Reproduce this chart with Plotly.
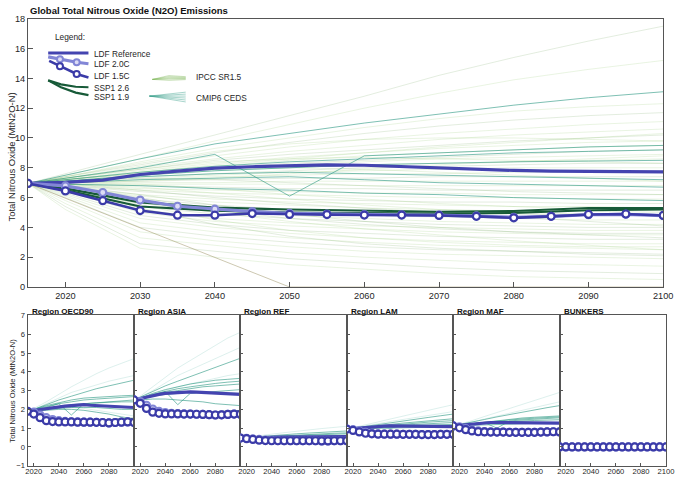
import plotly.graph_objects as go

W, H = 685, 482

# ---------------- data ----------------
years5 = list(range(2015, 2101, 5))
years10 = [2015, 2020, 2030, 2040, 2050, 2060, 2070, 2080, 2090, 2100]

main_xticks = [2020, 2030, 2040, 2050, 2060, 2070, 2080, 2090, 2100]
main_yticks = [0, 2, 4, 6, 8, 10, 12, 14, 16, 18]
panel_xticks = [2020, 2040, 2060, 2080, 2100]
panel_yticks = [-1, 0, 1, 2, 3, 4, 5, 6, 7]

# Global totals (MtN2O-N)
ldf_ref_global = [6.95, 7.02, 7.17, 7.55, 7.78, 7.98, 8.07, 8.12, 8.2, 8.17, 8.08, 7.98, 7.9, 7.82, 7.77, 7.75, 7.73, 7.72]
ldf_20_global = [6.95, 6.78, 6.34, 5.83, 5.42, 5.22, 5.06, 4.95, 4.9, 4.86, 4.85, 4.82, 4.77, 4.68, 4.74, 4.85, 4.88, 4.79]
ldf_15_global = [6.95, 6.45, 5.79, 5.13, 4.82, 4.82, 4.93, 4.87, 4.86, 4.83, 4.83, 4.8, 4.74, 4.64, 4.74, 4.87, 4.9, 4.8]
ssp126_global = [6.95, 6.62, 5.68, 5.32, 5.2, 5.12, 5.05, 5.1, 5.3, 5.3]
ssp119_global = [6.95, 6.5, 5.4, 5.12, 5.0, 4.95, 4.92, 4.97, 5.15, 5.2]

cmip6_global = [
    [6.95, 7.5, 8.6, 9.6, 10.3, 11.0, 11.6, 12.2, 12.7, 13.1],
    [6.95, 7.3, 8.0, 8.9, 6.1, 8.8, 9.0, 9.2, 9.4, 9.5],
    [6.95, 7.2, 7.7, 8.1, 8.4, 8.6, 8.8, 9.0, 9.1, 9.2],
    [6.95, 7.1, 7.5, 7.8, 8.0, 8.2, 8.3, 8.4, 8.45, 8.5],
    [6.95, 7.1, 7.4, 7.6, 7.7, 7.6, 7.5, 7.4, 7.3, 7.2],
    [6.95, 7.0, 7.2, 7.3, 7.4, 7.2, 7.0, 6.9, 6.8, 6.7],
    [6.95, 6.9, 6.8, 6.6, 6.5, 6.3, 6.2, 6.0, 5.9, 5.8],
]

ipcc_sr15_global = [
    [6.95, 7.6, 8.9, 10.2, 11.5, 12.8, 14.2, 15.4, 16.5, 17.5],
    [6.95, 7.5, 8.6, 9.8, 10.9, 12.0, 13.0, 13.9, 14.6, 15.2],
    [6.95, 7.4, 8.4, 9.3, 10.0, 10.7, 11.3, 11.8, 12.1, 12.3],
    [6.95, 7.4, 8.2, 9.0, 9.7, 10.3, 10.8, 11.2, 11.5, 11.7],
    [6.95, 7.3, 8.1, 8.8, 9.4, 9.9, 10.3, 10.6, 10.9, 11.1],
    [6.95, 7.3, 8.0, 8.6, 9.1, 9.5, 9.9, 10.2, 10.4, 10.6],
    [6.95, 7.3, 7.9, 8.5, 8.9, 9.2, 9.5, 9.8, 10.0, 10.2],
    [6.95, 7.2, 7.8, 8.3, 8.7, 9.0, 9.3, 9.5, 9.7, 9.8],
    [6.95, 7.2, 7.7, 8.1, 8.5, 8.8, 9.0, 9.2, 9.4, 9.5],
    [6.95, 7.2, 7.6, 8.0, 8.3, 8.5, 8.7, 8.9, 9.1, 9.2],
    [6.95, 7.1, 7.5, 7.9, 8.2, 8.4, 8.6, 8.7, 8.8, 8.9],
    [6.95, 7.1, 7.5, 7.8, 8.0, 8.2, 8.3, 8.4, 8.5, 8.6],
    [6.95, 7.1, 7.4, 7.6, 7.8, 8.0, 8.1, 8.2, 8.3, 8.3],
    [6.95, 7.1, 7.3, 7.5, 7.7, 7.8, 7.9, 8.0, 8.0, 8.0],
    [6.95, 7.0, 7.2, 7.4, 7.5, 7.6, 7.6, 7.7, 7.7, 7.7],
    [6.95, 7.0, 7.1, 7.2, 7.3, 7.3, 7.4, 7.4, 7.4, 7.4],
    [6.95, 7.0, 7.0, 7.0, 7.1, 7.1, 7.1, 7.1, 7.1, 7.1],
    [6.95, 6.9, 6.9, 6.9, 6.9, 6.8, 6.8, 6.8, 6.8, 6.8],
    [6.95, 6.9, 6.8, 6.7, 6.6, 6.6, 6.5, 6.5, 6.5, 6.5],
    [6.95, 6.9, 6.6, 6.5, 6.4, 6.3, 6.3, 6.2, 6.2, 6.2],
    [6.95, 6.8, 6.5, 6.3, 6.2, 6.1, 6.0, 6.0, 5.9, 5.9],
    [6.95, 6.8, 6.4, 6.1, 5.9, 5.8, 5.7, 5.7, 5.6, 5.6],
    [6.95, 6.7, 6.2, 5.9, 5.7, 5.6, 5.5, 5.4, 5.4, 5.3],
    [6.95, 6.7, 6.1, 5.7, 5.5, 5.3, 5.2, 5.1, 5.1, 5.0],
    [6.95, 6.6, 5.9, 5.5, 5.2, 5.1, 5.0, 4.9, 4.8, 4.8],
    [6.95, 6.6, 5.8, 5.3, 5.0, 4.8, 4.7, 4.6, 4.5, 4.5],
    [6.95, 6.5, 5.6, 5.1, 4.8, 4.6, 4.4, 4.3, 4.2, 4.2],
    [6.95, 6.5, 5.4, 4.9, 4.6, 4.4, 4.2, 4.1, 4.0, 4.0],
    [6.95, 6.4, 5.2, 4.6, 4.3, 4.1, 4.0, 3.9, 3.8, 3.8],
    [6.95, 6.4, 5.0, 4.4, 4.1, 3.9, 3.7, 3.6, 3.5, 3.5],
    [6.95, 6.3, 4.8, 4.2, 3.8, 3.6, 3.4, 3.3, 3.2, 3.2],
    [6.95, 6.2, 4.6, 4.0, 3.6, 3.3, 3.1, 3.0, 2.9, 2.9],
    [6.95, 6.1, 4.3, 3.7, 3.3, 3.0, 2.8, 2.7, 2.6, 2.5],
    [6.95, 6.0, 4.0, 3.4, 3.0, 2.7, 2.5, 2.4, 2.3, 2.2],
    [6.95, 5.8, 3.7, 3.1, 2.7, 2.4, 2.2, 2.1, 2.0, 1.9],
    [6.95, 5.6, 3.3, 2.8, 2.3, 2.0, 1.8, 1.6, 1.5, 1.4],
    [6.95, 5.4, 2.9, 2.4, 1.9, 1.6, 1.3, 1.1, 1.0, 0.9],
    [6.95, 5.2, 2.6, 2.0, 1.5, 1.2, 0.9, 0.7, 0.6, 0.5],
    [6.95, 7.2, 7.6, 7.9, 8.0, 7.9, 7.7, 7.5, 7.3, 7.1],
    [6.95, 7.1, 7.3, 7.2, 7.0, 6.8, 6.6, 6.4, 6.3, 6.2],
    [6.95, 6.9, 6.7, 6.3, 5.9, 5.5, 5.2, 5.0, 4.9, 4.8],
    [6.95, 7.3, 7.9, 8.4, 8.6, 8.7, 8.6, 8.5, 8.4, 8.3],
    [6.95, 6.8, 6.2, 5.5, 4.9, 4.4, 4.0, 3.7, 3.5, 3.3],
    [6.95, 7.0, 6.9, 6.6, 6.2, 5.9, 5.6, 5.4, 5.2, 5.1],
    [6.95, 7.4, 8.3, 9.1, 9.6, 9.9, 10.0, 10.0, 9.9, 9.8],
    [6.95, 6.6, 5.3, 4.2, 3.4, 2.9, 2.6, 2.4, 2.2, 2.1],
    [6.95, 6.7, 5.5, 4.5, 3.8, 3.3, 3.0, 2.8, 2.7, 2.7],
    [6.95, 7.2, 7.7, 8.2, 8.6, 9.0, 9.4, 9.7, 10.0, 10.3],
    [6.95, 6.9, 6.5, 6.0, 5.6, 5.3, 5.0, 4.7, 4.4, 4.1],
    [6.95, 6.5, 5.7, 5.0, 4.4, 3.9, 3.5, 3.1, 2.8, 2.5],
    [6.95, 7.0, 7.1, 7.3, 7.6, 7.9, 8.2, 8.4, 8.6, 8.8],
    [6.95, 6.8, 6.0, 5.2, 4.6, 4.2, 3.9, 3.7, 3.6, 3.6],
]
ipcc_sr15_steep = [6.95, 5.95, 3.95, 1.95, 0.0, 0.0, 0.0, 0.0, 0.0, 0.0]

# Regional values (MtN2O-N)
regions = ["OECD90", "ASIA", "REF", "LAM", "MAF", "BUNKERS"]
region_titles = ["Region OECD90", "Region ASIA", "Region REF", "Region LAM", "Region MAF", "BUNKERS"]

region_ldf_ref = {
    "OECD90": [1.9, 1.95, 2.0, 2.05, 2.1, 2.12, 2.17, 2.2, 2.23, 2.25, 2.22, 2.2, 2.17, 2.15, 2.12, 2.1, 2.1, 2.1],
    "ASIA": [2.5, 2.58, 2.65, 2.72, 2.8, 2.85, 2.88, 2.9, 2.92, 2.93, 2.92, 2.9, 2.88, 2.85, 2.83, 2.81, 2.8, 2.8],
    "REF": [0.47, 0.47, 0.48, 0.49, 0.5, 0.51, 0.52, 0.52, 0.53, 0.53, 0.53, 0.54, 0.54, 0.54, 0.55, 0.55, 0.55, 0.55],
    "LAM": [0.95, 0.98, 1.02, 1.05, 1.08, 1.1, 1.11, 1.12, 1.12, 1.12, 1.11, 1.1, 1.1, 1.09, 1.09, 1.08, 1.08, 1.08],
    "MAF": [1.12, 1.15, 1.2, 1.24, 1.27, 1.29, 1.3, 1.3, 1.3, 1.3, 1.29, 1.28, 1.28, 1.27, 1.27, 1.27, 1.27, 1.27],
    "BUNKERS": [0.0] * 18,
}
region_ldf_15 = {
    "OECD90": [1.9, 1.75, 1.56, 1.4, 1.35, 1.33, 1.33, 1.33, 1.32, 1.32, 1.32, 1.31, 1.3, 1.28, 1.3, 1.32, 1.33, 1.3],
    "ASIA": [2.5, 2.32, 2.05, 1.85, 1.79, 1.76, 1.76, 1.76, 1.75, 1.75, 1.74, 1.73, 1.72, 1.7, 1.71, 1.73, 1.75, 1.74],
    "REF": [0.47, 0.44, 0.4, 0.36, 0.34, 0.33, 0.33, 0.33, 0.33, 0.33, 0.33, 0.33, 0.33, 0.32, 0.32, 0.33, 0.33, 0.33],
    "LAM": [0.95, 0.88, 0.8, 0.73, 0.7, 0.68, 0.68, 0.68, 0.68, 0.67, 0.67, 0.67, 0.66, 0.66, 0.66, 0.67, 0.67, 0.67],
    "MAF": [1.12, 1.02, 0.92, 0.85, 0.81, 0.8, 0.79, 0.79, 0.79, 0.78, 0.78, 0.78, 0.78, 0.78, 0.79, 0.8, 0.81, 0.8],
    "BUNKERS": [0.0] * 18,
}
region_ldf_20 = {
    "OECD90": [1.9, 1.85, 1.7, 1.56, 1.46, 1.4, 1.36, 1.34, 1.33, 1.32, 1.32, 1.31, 1.3, 1.28, 1.3, 1.32, 1.33, 1.3],
    "ASIA": [2.5, 2.42, 2.22, 2.02, 1.9, 1.83, 1.79, 1.77, 1.76, 1.75, 1.74, 1.73, 1.72, 1.7, 1.71, 1.73, 1.75, 1.74],
    "REF": [0.47, 0.46, 0.43, 0.4, 0.37, 0.35, 0.34, 0.33, 0.33, 0.33, 0.33, 0.33, 0.33, 0.32, 0.32, 0.33, 0.33, 0.33],
    "LAM": [0.95, 0.92, 0.85, 0.78, 0.73, 0.7, 0.69, 0.68, 0.68, 0.67, 0.67, 0.67, 0.66, 0.66, 0.66, 0.67, 0.67, 0.67],
    "MAF": [1.12, 1.07, 0.98, 0.9, 0.85, 0.82, 0.8, 0.79, 0.79, 0.78, 0.78, 0.78, 0.78, 0.78, 0.79, 0.8, 0.81, 0.8],
    "BUNKERS": [0.0] * 18,
}
region_ssp126 = {
    "OECD90": [1.9, 1.8, 1.6, 1.5, 1.45, 1.42, 1.4, 1.42, 1.48, 1.5],
    "ASIA": [2.5, 2.35, 2.05, 1.92, 1.88, 1.85, 1.83, 1.85, 1.9, 1.92],
    "REF": [0.47, 0.45, 0.4, 0.37, 0.36, 0.35, 0.35, 0.35, 0.36, 0.36],
    "LAM": [0.95, 0.9, 0.8, 0.74, 0.71, 0.7, 0.69, 0.69, 0.7, 0.7],
    "MAF": [1.12, 1.05, 0.95, 0.87, 0.83, 0.81, 0.8, 0.8, 0.81, 0.82],
    "BUNKERS": [0.0] * 10,
}
region_ssp119 = {
    "OECD90": [1.9, 1.78, 1.55, 1.45, 1.4, 1.38, 1.36, 1.38, 1.42, 1.45],
    "ASIA": [2.5, 2.3, 1.95, 1.85, 1.8, 1.78, 1.77, 1.8, 1.85, 1.88],
    "REF": [0.47, 0.44, 0.38, 0.35, 0.34, 0.34, 0.33, 0.33, 0.34, 0.34],
    "LAM": [0.95, 0.88, 0.77, 0.71, 0.69, 0.68, 0.67, 0.67, 0.68, 0.68],
    "MAF": [1.12, 1.03, 0.91, 0.84, 0.81, 0.79, 0.78, 0.78, 0.79, 0.8],
    "BUNKERS": [0.0] * 10,
}
region_cmip6 = {
    "OECD90": [
        [1.9, 2.0, 2.25, 2.5, 2.7, 2.9, 3.1, 3.25, 3.4, 3.55],
        [1.9, 2.0, 2.2, 2.35, 2.5, 2.6, 2.65, 2.7, 2.72, 2.75],
        [1.9, 2.0, 2.15, 2.3, 2.4, 2.5, 2.55, 2.6, 2.65, 2.68],
        [1.9, 1.95, 2.1, 2.3, 1.7, 2.3, 2.35, 2.4, 2.45, 2.5],
        [1.9, 1.95, 2.05, 2.15, 2.25, 2.3, 2.35, 2.38, 2.4, 2.4],
        [1.9, 1.95, 2.0, 2.05, 2.1, 2.1, 2.1, 2.05, 2.0, 2.0],
        [1.9, 1.9, 1.95, 2.0, 2.0, 1.95, 1.85, 1.75, 1.6, 1.5],
    ],
    "ASIA": [
        [2.5, 2.65, 2.95, 3.25, 3.5, 3.75, 4.0, 4.25, 4.5, 4.72],
        [2.5, 2.6, 2.85, 3.05, 3.2, 3.35, 3.45, 3.55, 3.6, 3.65],
        [2.5, 2.6, 2.8, 2.95, 3.1, 3.2, 3.3, 3.38, 3.45, 3.5],
        [2.5, 2.58, 2.75, 2.9, 3.0, 3.1, 3.2, 3.25, 3.3, 3.35],
        [2.5, 2.55, 2.75, 2.95, 2.25, 2.85, 2.9, 2.95, 3.0, 3.05],
        [2.5, 2.55, 2.7, 2.8, 2.85, 2.9, 2.9, 2.88, 2.85, 2.85],
        [2.5, 2.5, 2.55, 2.55, 2.5, 2.45, 2.4, 2.3, 2.25, 2.2],
    ],
    "REF": [
        [0.47, 0.5, 0.56, 0.61, 0.66, 0.7, 0.74, 0.78, 0.82, 0.85],
        [0.47, 0.49, 0.53, 0.57, 0.61, 0.65, 0.68, 0.71, 0.73, 0.75],
        [0.47, 0.48, 0.51, 0.55, 0.58, 0.61, 0.64, 0.66, 0.68, 0.7],
        [0.47, 0.48, 0.5, 0.53, 0.55, 0.57, 0.59, 0.6, 0.61, 0.62],
        [0.47, 0.47, 0.48, 0.5, 0.51, 0.52, 0.53, 0.54, 0.55, 0.55],
    ],
    "LAM": [
        [0.95, 1.0, 1.1, 1.2, 1.3, 1.4, 1.48, 1.57, 1.66, 1.75],
        [0.95, 0.99, 1.06, 1.13, 1.2, 1.27, 1.33, 1.39, 1.45, 1.5],
        [0.95, 0.98, 1.04, 1.1, 1.16, 1.22, 1.27, 1.32, 1.36, 1.4],
        [0.95, 0.97, 1.02, 1.08, 1.0, 1.15, 1.2, 1.24, 1.27, 1.3],
        [0.95, 0.97, 1.0, 1.04, 1.08, 1.11, 1.14, 1.16, 1.18, 1.2],
        [0.95, 0.96, 0.98, 1.0, 1.02, 1.03, 1.04, 1.05, 1.05, 1.05],
    ],
    "MAF": [
        [1.12, 1.18, 1.32, 1.46, 1.6, 1.73, 1.85, 1.97, 2.09, 2.2],
        [1.12, 1.16, 1.25, 1.34, 1.42, 1.49, 1.54, 1.58, 1.62, 1.65],
        [1.12, 1.15, 1.23, 1.31, 1.38, 1.44, 1.49, 1.53, 1.57, 1.6],
        [1.12, 1.15, 1.22, 1.3, 1.0, 1.38, 1.44, 1.48, 1.52, 1.55],
        [1.12, 1.14, 1.2, 1.26, 1.31, 1.35, 1.38, 1.41, 1.43, 1.45],
        [1.12, 1.13, 1.17, 1.2, 1.23, 1.25, 1.27, 1.28, 1.29, 1.3],
    ],
    "BUNKERS": [],
}
region_cmip6_faint = {
    "OECD90": [
        [1.9, 2.05, 2.4, 2.8, 3.2, 3.55, 3.9, 4.2, 4.45, 4.7],
        [1.9, 2.0, 2.3, 2.6, 2.9, 3.1, 3.3, 3.5, 3.65, 3.8],
        [1.9, 1.95, 2.05, 2.1, 2.1, 2.05, 1.95, 1.85, 1.75, 1.65],
    ],
    "ASIA": [
        [2.5, 2.7, 3.2, 3.7, 4.2, 4.6, 5.0, 5.4, 5.8, 6.1],
        [2.5, 2.65, 3.0, 3.4, 3.8, 4.1, 4.4, 4.7, 5.0, 5.3],
        [2.5, 2.6, 2.8, 3.0, 3.2, 3.35, 3.5, 3.65, 3.8, 3.9],
    ],
    "REF": [
        [0.47, 0.52, 0.6, 0.68, 0.76, 0.84, 0.91, 0.98, 1.04, 1.1],
    ],
    "LAM": [
        [0.95, 1.02, 1.17, 1.33, 1.49, 1.65, 1.8, 1.95, 2.1, 2.25],
        [0.95, 1.0, 1.12, 1.24, 1.36, 1.47, 1.58, 1.68, 1.78, 1.88],
    ],
    "MAF": [
        [1.12, 1.2, 1.4, 1.62, 1.83, 2.04, 2.25, 2.46, 2.68, 2.9],
        [1.12, 1.18, 1.33, 1.49, 1.65, 1.8, 1.95, 2.1, 2.25, 2.4],
    ],
    "BUNKERS": [],
}

# ---------------- styles ----------------
C_REF = "#4444b0"
C_15 = "#3b3ba8"
C_20 = "#8286d6"
C_20_FILL = "#dcdcf5"
C_SSP = "#175a38"
C_TEAL = "rgba(38,150,128,0.75)"
C_TEAL_FAINT = "rgba(60,170,150,0.22)"
C_AXIS = "#555555"
C_TXT = "#262626"
FONT = "Liberation Sans, Arial, sans-serif"


def px_x(p):
    return p / W


def px_y(p):
    return 1 - p / H


fig = go.Figure()


def add(trace, xa, ya):
    trace.update(xaxis=xa, yaxis=ya, showlegend=False, hoverinfo="skip")
    fig.add_trace(trace)


# ---------- main panel ----------
for i, path in enumerate(ipcc_sr15_global):
    col = "rgba(70,140,45,0.22)" if i % 3 == 0 else "rgba(135,195,95,0.26)"
    add(go.Scatter(x=years10, y=path, mode="lines", line=dict(color=col, width=0.7)), "x", "y")
add(go.Scatter(x=years10, y=ipcc_sr15_steep, mode="lines",
               line=dict(color="rgba(150,140,90,0.6)", width=0.8)), "x", "y")
for path in cmip6_global:
    add(go.Scatter(x=years10, y=path, mode="lines", line=dict(color=C_TEAL, width=0.8)), "x", "y")
add(go.Scatter(x=years10, y=ssp126_global, mode="lines", line=dict(color=C_SSP, width=2.2)), "x", "y")
add(go.Scatter(x=years10, y=ssp119_global, mode="lines", line=dict(color=C_SSP, width=2.2)), "x", "y")
add(go.Scatter(x=years5, y=ldf_ref_global, mode="lines", line=dict(color=C_REF, width=3.2)), "x", "y")
add(go.Scatter(x=years5, y=ldf_20_global, mode="lines+markers", line=dict(color=C_20, width=3.2),
               marker=dict(symbol="circle", size=7, color=C_20_FILL, line=dict(color=C_20, width=2.2))), "x", "y")
add(go.Scatter(x=years5, y=ldf_15_global, mode="lines+markers", line=dict(color=C_15, width=2.6),
               marker=dict(symbol="circle", size=7, color="white", line=dict(color=C_15, width=2.2))), "x", "y")

# ---------- regional panels ----------
lefts = [26, 134.3, 242.6, 350.9, 459.2, 567.5]
pw = 108.3
for k, reg in enumerate(regions):
    xa, ya = f"x{k + 2}", f"y{k + 2}"
    for path in region_cmip6_faint[reg]:
        add(go.Scatter(x=years10, y=path, mode="lines", line=dict(color=C_TEAL_FAINT, width=0.8)), xa, ya)
    for path in region_cmip6[reg]:
        add(go.Scatter(x=years10, y=path, mode="lines", line=dict(color=C_TEAL, width=0.8)), xa, ya)
    add(go.Scatter(x=years10, y=region_ssp126[reg], mode="lines", line=dict(color=C_SSP, width=1.8)), xa, ya)
    add(go.Scatter(x=years10, y=region_ssp119[reg], mode="lines", line=dict(color=C_SSP, width=1.8)), xa, ya)
    add(go.Scatter(x=years5, y=region_ldf_ref[reg], mode="lines", line=dict(color=C_REF, width=3.2)), xa, ya)
    add(go.Scatter(x=years5, y=region_ldf_20[reg], mode="lines+markers", line=dict(color=C_20, width=2.5),
                   marker=dict(symbol="circle", size=7, color=C_20_FILL, line=dict(color=C_20, width=2.2))), xa, ya)
    add(go.Scatter(x=years5, y=region_ldf_15[reg], mode="lines+markers", line=dict(color=C_15, width=2.5),
                   marker=dict(symbol="circle", size=7, color="white", line=dict(color=C_15, width=2.2))), xa, ya)

# ---------- custom legend (drawn on a full-figure overlay axis in pixel units) ----------
LX, LY = "x8", "y8"
add(go.Scatter(x=[47, 88], y=[49, 49], mode="lines", line=dict(color=C_REF, width=3.2)), LX, LY)
add(go.Scatter(x=[47, 59, 76, 88], y=[53, 55.5, 58.5, 60], mode="lines", line=dict(color=C_20, width=3.2)), LX, LY)
add(go.Scatter(x=[59, 76], y=[55.5, 58.5], mode="markers",
               marker=dict(size=6, color=C_20_FILL, line=dict(color=C_20, width=2))), LX, LY)
add(go.Scatter(x=[48, 59, 76, 88], y=[57, 62.5, 70.5, 74], mode="lines", line=dict(color=C_15, width=2.6)), LX, LY)
add(go.Scatter(x=[59, 76], y=[62.5, 70.5], mode="markers",
               marker=dict(size=6, color="white", line=dict(color=C_15, width=2))), LX, LY)
add(go.Scatter(x=[47, 60, 75, 88], y=[77, 81, 83.5, 84], mode="lines", line=dict(color=C_SSP, width=2.2)), LX, LY)
add(go.Scatter(x=[47, 60, 75, 88], y=[77, 84, 89.5, 92], mode="lines", line=dict(color=C_SSP, width=2.2)), LX, LY)
for dy in [-3, -2, -1, 0, 1, 2]:
    add(go.Scatter(x=[153, 170, 187], y=[76, 75 + dy, 75 + dy * 0.6], mode="lines",
                   line=dict(color="rgba(120,180,80,0.45)", width=0.8)), LX, LY)
for dy in [-4, -2, 0, 2, 4, 6]:
    add(go.Scatter(x=[150, 165, 187], y=[93, 93 + dy * 0.4, 93 + dy], mode="lines",
                   line=dict(color="rgba(38,150,128,0.5)", width=0.8)), LX, LY)

# ---------- axes ----------
tickfont_main = dict(family=FONT, size=9.2, color=C_TXT)
tickfont_panel = dict(family=FONT, size=7.6, color=C_TXT)
common = dict(showline=True, linecolor=C_AXIS, linewidth=1, mirror=True, ticks="inside",
              tickcolor=C_AXIS, showgrid=False, zeroline=False, fixedrange=True)

layout = dict(
    width=W, height=H, margin=dict(l=0, r=0, t=0, b=0),
    paper_bgcolor="white", plot_bgcolor="rgba(0,0,0,0)", showlegend=False,
    font=dict(family=FONT, color=C_TXT),
    xaxis=dict(domain=[px_x(26.5), px_x(673)], range=[2015, 2100], tickvals=main_xticks,
               ticklen=5, tickfont=tickfont_main, anchor="y", **common),
    yaxis=dict(domain=[px_y(288), px_y(14)], range=[0, 18], tickvals=main_yticks,
               ticklen=5, tickfont=tickfont_main, anchor="x", **common),
    xaxis8=dict(domain=[0, 1], range=[0, W], visible=False, anchor="y8", fixedrange=True),
    yaxis8=dict(domain=[0, 1], range=[H, 0], visible=False, anchor="x8", fixedrange=True),
)
for k in range(6):
    last = k == 5
    layout[f"xaxis{k + 2}"] = dict(
        domain=[px_x(lefts[k]), px_x(lefts[k] + pw)], range=[2015, 2100], tickvals=panel_xticks,
        ticktext=["2020", "2040", "2060", "2080", "2100" if last else ""],
        ticklen=3, tickfont=tickfont_panel, anchor=f"y{k + 2}", ticklabelstandoff=-2, **common)
    layout[f"yaxis{k + 2}"] = dict(
        domain=[px_y(470.5), px_y(317)], range=[-1, 7], tickvals=panel_yticks,
        showticklabels=(k == 0), ticklen=3, tickfont=tickfont_panel, anchor=f"x{k + 2}", **common)

ann = []
ann.append(dict(text="<b>Global Total Nitrous Oxide (N2O) Emissions</b>", x=px_x(26), y=px_y(6),
                xref="paper", yref="paper", xanchor="left", yanchor="middle", showarrow=False,
                font=dict(family=FONT, size=9.5, color="#111")))
ann.append(dict(text="Total Nitrous Oxide (MtN2O-N)", x=px_x(10), y=px_y(155), textangle=-90,
                xref="paper", yref="paper", xanchor="center", yanchor="middle", showarrow=False,
                font=dict(family=FONT, size=9.5, color=C_TXT)))
ann.append(dict(text="Total Nitrous Oxide (MtN2O-N)", x=px_x(11), y=px_y(394), textangle=-90,
                xref="paper", yref="paper", xanchor="center", yanchor="middle", showarrow=False,
                font=dict(family=FONT, size=7.6, color=C_TXT)))
for k, t in enumerate(region_titles):
    ann.append(dict(text=f"<b>{t}</b>", x=px_x(lefts[k] + 2), y=px_y(312.5),
                    xref="paper", yref="paper", xanchor="left", yanchor="middle", showarrow=False,
                    font=dict(family=FONT, size=8, color="#111")))
legend_texts = [("Legend:", 52, 33), ("LDF Reference", 92, 50), ("LDF 2.0C", 92, 60),
                ("LDF 1.5C", 92, 72), ("SSP1 2.6", 92, 85), ("SSP1 1.9", 92, 94),
                ("IPCC SR1.5", 195, 74), ("CMIP6 CEDS", 195, 95)]
for t, x, y in legend_texts:
    ann.append(dict(text=t, x=px_x(x), y=px_y(y), xref="paper", yref="paper",
                    xanchor="left", yanchor="middle", showarrow=False,
                    font=dict(family=FONT, size=8.3, color=C_TXT)))
layout["annotations"] = ann

fig.update_layout(**layout)
fig.write_html(
    "out.html",
    config={"displayModeBar": False, "staticPlot": True},
    post_script="document.body.style.margin='0';document.body.style.overflow='hidden';"
                "document.documentElement.style.overflow='hidden';",
)
